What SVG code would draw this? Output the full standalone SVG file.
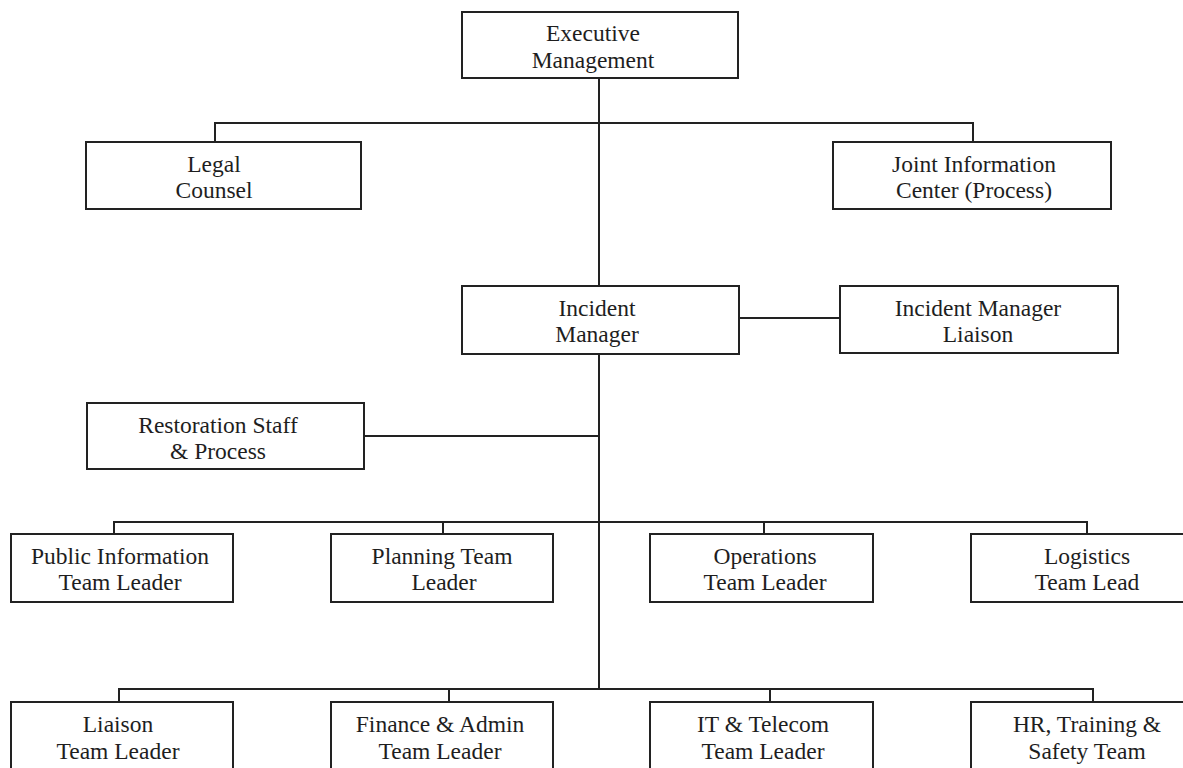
<svg xmlns="http://www.w3.org/2000/svg" width="1183" height="768" viewBox="0 0 1183 768">
<style>
.box{fill:#fff;stroke:#222;stroke-width:2}
.ln{fill:none;stroke:#222;stroke-width:2}
text{font-family:"Liberation Serif","Times New Roman",serif;font-size:23.5px;fill:#1e1e1e;text-anchor:middle}
</style>
<rect width="1183" height="768" fill="#fff"/>
<g id="connectors">
<path class="ln" d="M599 78V689"/>
<path class="ln" d="M215 142V123H973V142"/>
<path class="ln" d="M739 318H840"/>
<path class="ln" d="M364 436H599"/>
<path class="ln" d="M114 534V522H1087V534"/>
<path class="ln" d="M443 522V534M764 522V534"/>
<path class="ln" d="M119 702V689H1093V702"/>
<path class="ln" d="M449 689V702M770 689V702"/>
</g>
<g id="exec"><rect class="box" x="462" y="12" width="276" height="66"/><text x="593" y="41">Executive</text><text x="593" y="68">Management</text></g>
<g id="legal"><rect class="box" x="86" y="142" width="275" height="67"/><text x="214" y="172">Legal</text><text x="214" y="198">Counsel</text></g>
<g id="jic"><rect class="box" x="833" y="142" width="278" height="67"/><text x="974" y="172">Joint Information</text><text x="974" y="198">Center (Process)</text></g>
<g id="im"><rect class="box" x="462" y="286" width="277" height="68"/><text x="597" y="316">Incident</text><text x="597" y="342">Manager</text></g>
<g id="iml"><rect class="box" x="840" y="286" width="278" height="67"/><text x="978" y="316">Incident Manager</text><text x="978" y="342">Liaison</text></g>
<g id="rest"><rect class="box" x="87" y="403" width="277" height="66"/><text x="218" y="433">Restoration Staff</text><text x="218" y="459">&amp; Process</text></g>
<g id="pub"><rect class="box" x="11" y="534" width="222" height="68"/><text x="120" y="564">Public Information</text><text x="120" y="590">Team Leader</text></g>
<g id="plan"><rect class="box" x="331" y="534" width="222" height="68"/><text x="442" y="564">Planning Team</text><text x="444" y="590">Leader</text></g>
<g id="ops"><rect class="box" x="650" y="534" width="223" height="68"/><text x="765" y="564">Operations</text><text x="765" y="590">Team Leader</text></g>
<g id="log"><rect class="box" x="971" y="534" width="232" height="68"/><text x="1087" y="564">Logistics</text><text x="1087" y="590">Team Lead</text></g>
<g id="liaison"><rect class="box" x="11" y="702" width="222" height="80"/><text x="118" y="732">Liaison</text><text x="118" y="759">Team Leader</text></g>
<g id="fin"><rect class="box" x="331" y="702" width="222" height="80"/><text x="440" y="732">Finance &amp; Admin</text><text x="440" y="759">Team Leader</text></g>
<g id="it"><rect class="box" x="650" y="702" width="223" height="80"/><text x="763" y="732">IT &amp; Telecom</text><text x="763" y="759">Team Leader</text></g>
<g id="hr"><rect class="box" x="971" y="702" width="232" height="80"/><text x="1087" y="732">HR, Training &amp;</text><text x="1087" y="759">Safety Team</text></g>
</svg>
